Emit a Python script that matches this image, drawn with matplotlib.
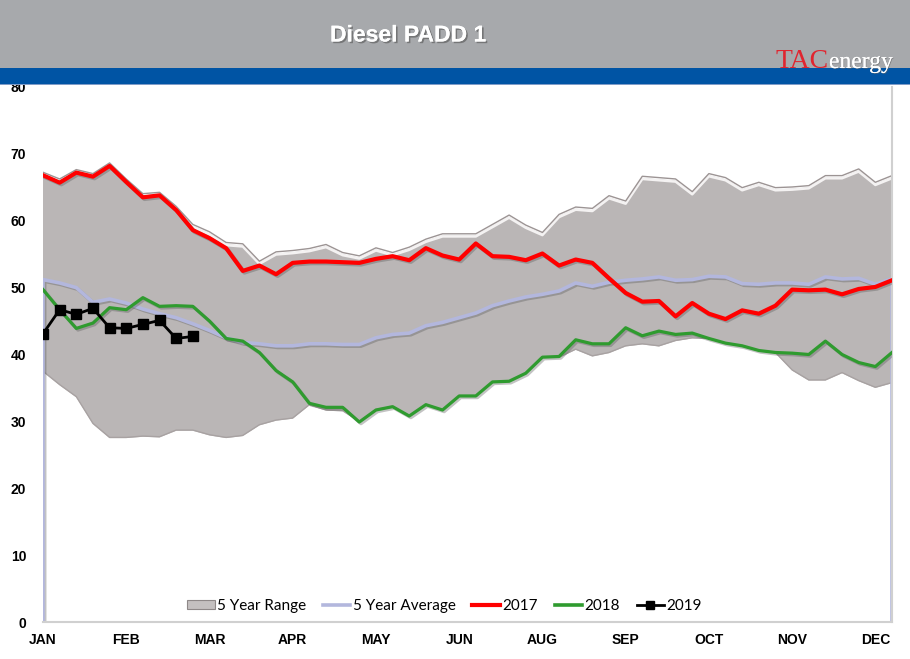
import numpy as np
import matplotlib
matplotlib.use("Agg")
import matplotlib.pyplot as plt
from matplotlib.patches import Rectangle, Patch
from matplotlib.lines import Line2D
import matplotlib.patheffects as pe

# ---------------- data ----------------
month_labels = ["JAN", "FEB", "MAR", "APR", "MAY", "JUN", "AUG", "SEP", "OCT", "NOV", "DEC"]
month_tick_weeks = [0, 5, 10, 15, 20, 25, 30, 35, 40, 45, 50]

range_top = [67.0, 66.0, 67.4, 66.8, 68.4, 66.0, 63.8, 64.0, 61.9, 59.2, 58.1, 56.5,
             56.3, 53.7, 55.1, 55.3, 55.6, 56.2, 55.0, 54.5, 55.7, 55.0, 55.8, 57.0,
             57.8, 57.8, 57.8, 59.2, 60.6, 59.1, 58.0, 60.7, 61.8, 61.6, 63.5, 62.7,
             66.4, 66.2, 66.0, 64.1, 66.8, 66.2, 64.7, 65.5, 64.7, 64.8, 65.0, 66.5,
             66.5, 67.5, 65.5, 66.5]
range_bottom = [37.4, 35.4, 33.6, 29.6, 27.5, 27.5, 27.7, 27.6, 28.6, 28.6, 27.9, 27.5,
                27.8, 29.4, 30.1, 30.4, 32.4, 31.6, 31.5, 29.9, 31.7, 32.1, 30.7, 32.4,
                31.6, 33.7, 33.7, 35.8, 35.9, 37.1, 39.5, 39.5, 40.7, 39.7, 40.2, 41.2,
                41.5, 41.2, 42.0, 42.4, 42.3, 41.6, 41.2, 40.5, 40.2, 37.6, 36.1, 36.1,
                37.2, 36.0, 35.0, 35.7]
avg_5yr = [51.2, 50.7, 50.0, 47.8, 48.3, 47.7, 46.8, 46.1, 45.5, 44.6, 43.6, 42.5,
           41.8, 41.6, 41.3, 41.3, 41.6, 41.6, 41.5, 41.5, 42.5, 43.0, 43.2, 44.3,
           44.8, 45.5, 46.2, 47.3, 48.0, 48.6, 49.0, 49.5, 50.7, 50.2, 50.8, 51.1,
           51.3, 51.6, 51.1, 51.2, 51.7, 51.6, 50.6, 50.5, 50.7, 50.7, 50.5, 51.6,
           51.3, 51.4, 50.5, 51.3]
y2017 = [66.8, 65.7, 67.2, 66.6, 68.2, 65.8, 63.5, 63.8, 61.6, 58.6, 57.4, 55.9,
         52.5, 53.3, 52.0, 53.7, 53.9, 53.9, 53.8, 53.7, 54.3, 54.7, 54.1, 55.9,
         54.8, 54.2, 56.6, 54.7, 54.6, 54.1, 55.1, 53.3, 54.2, 53.7, 51.4, 49.2,
         47.9, 48.0, 45.7, 47.7, 46.1, 45.3, 46.6, 46.1, 47.3, 49.7, 49.6, 49.7,
         49.0, 49.8, 50.1, 51.1]
y2018 = [49.7, 46.7, 43.9, 44.7, 47.0, 46.7, 48.5, 47.2, 47.3, 47.2, 45.0, 42.4,
         42.0, 40.3, 37.6, 35.9, 32.7, 32.1, 32.1, 29.9, 31.7, 32.2, 30.8, 32.5,
         31.7, 33.8, 33.8, 35.9, 36.0, 37.2, 39.6, 39.7, 42.2, 41.6, 41.6, 44.0,
         42.8, 43.5, 43.0, 43.2, 42.4, 41.7, 41.3, 40.6, 40.3, 40.2, 40.0, 42.0,
         40.0, 38.8, 38.2, 40.3]
y2019 = [43.1, 46.7, 46.0, 46.9, 44.0, 43.9, 44.5, 45.1, 42.4, 42.7]

title = "Diesel PADD 1"

# ---------------- figure ----------------
W, H = 910, 659
fig = plt.figure(figsize=(W / 100, H / 100), dpi=100)
fig.patch.set_facecolor("white")

def fx(px):
    return px / W

def fy(py):
    return 1 - py / H

# header bands
fig.patches.append(Rectangle((0, fy(68)), 1, fy(0) - fy(68), transform=fig.transFigure,
                             facecolor="#A7A9AC", edgecolor="none", zorder=0))
fig.patches.append(Rectangle((0, fy(84)), 1, fy(68) - fy(84), transform=fig.transFigure,
                             facecolor="#0054A4", edgecolor="none", zorder=0))
fig.patches.append(Rectangle((0, fy(85)), 1, fy(84) - fy(85), transform=fig.transFigure,
                             facecolor="#7F9CC8", edgecolor="none", zorder=0))

fig.text(fx(408), fy(35), "D i e s e l   P A D D   1".replace(" ", "\u200a") if False else title,
         color="white", fontsize=16.5, fontweight="bold",
         family="Liberation Sans", ha="center", va="center",
         path_effects=[pe.withSimplePatchShadow(offset=(1.2, -1.2), shadow_rgbFace="#555555", alpha=0.6), pe.Normal()])

# logo
fig.text(fx(775), fy(68), "TAC", color="#E0252F", fontsize=20, family="Liberation Serif",
         ha="left", va="baseline")
fig.text(fx(829), fy(68), "energy", color="white", fontsize=17, family="Liberation Serif",
         ha="left", va="baseline",
         path_effects=[pe.withSimplePatchShadow(offset=(0.6, -0.6), shadow_rgbFace="#666666", alpha=0.6), pe.Normal()])

# axes
ax = fig.add_axes([fx(43), fy(622), fx(892) - fx(43), fy(87) - fy(622)])
ax.set_facecolor("white")
n = len(range_top)
x = np.arange(n)
ax.set_xlim(0, n - 1)
ax.set_ylim(0, 80)

# 5 year range
ax.fill_between(x, range_bottom, range_top, facecolor="#BAB6B6", edgecolor="none", zorder=1)
ax.plot(x, np.array(range_top) + 0.25, color="#9C9494", lw=1.0, zorder=1.2)
ax.plot(x, np.array(range_top) - 0.15, color="#F4F2F2", lw=1.8, zorder=1.1)
ax.plot(x, np.array(range_bottom) + 0.1, color="#A8A2A2", lw=1.0, zorder=1.1)
ax.plot([x[-1], x[-1]], [range_bottom[-1], range_top[-1]], color="#6E6868", lw=1.2, zorder=1.2)

shadow = [pe.SimpleLineShadow(offset=(1.2, -1.2), shadow_color="#555555", alpha=0.35), pe.Normal()]

# 5 year average (drops to zero at both ends, as in the source)
avg_x = np.concatenate([[x[0]], x, [x[-1]]])
avg_y = np.concatenate([[0], avg_5yr, [0]])
ax.plot(avg_x, avg_y, color="#B3B7DD", lw=2.6, zorder=2, solid_joinstyle="round",
        path_effects=shadow)

ax.plot(x, y2017, color="#FF0000", lw=3.0, zorder=4, solid_joinstyle="round", path_effects=shadow)
ax.plot(x, y2018, color="#2F9B2F", lw=2.3, zorder=3, solid_joinstyle="round", path_effects=shadow)
x19 = np.arange(len(y2019))
ax.plot(x19, y2019, color="black", lw=2.0, marker="s", markersize=7, zorder=5)

# frame
for s in ["top", "left"]:
    ax.spines[s].set_visible(False)
for s in ["bottom", "right"]:
    ax.spines[s].set_color("#D0D0D0")
    ax.spines[s].set_linewidth(1.5)

ax.set_yticks(np.arange(0, 81, 10))
ax.set_yticklabels([str(v) for v in range(0, 81, 10)], fontsize=10, fontweight="bold",
                   family="Liberation Sans")
ax.set_xticks(month_tick_weeks)
ax.set_xticklabels(month_labels, fontsize=10, fontweight="bold",
                   family=["Liberation Sans Narrow", "Liberation Sans"])
ax.tick_params(axis="y", length=0, pad=12)
ax.tick_params(axis="x", length=0, pad=8)

handles = [
    Patch(facecolor="#C4C0C0", edgecolor="#8E8888", linewidth=0.8),
    Line2D([], [], color="#B3B7DD", lw=2.6),
    Line2D([], [], color="#FF0000", lw=3.0),
    Line2D([], [], color="#2F9B2F", lw=2.6),
    Line2D([], [], color="black", lw=2.0, marker="s", markersize=6),
]
labels = ["5 Year Range", "5 Year Average", "2017", "2018", "2019"]
leg = ax.legend(handles, labels, loc="center", bbox_to_anchor=(0.473, 0.03), ncol=5,
                frameon=False, prop={"family": "Lato", "size": 11},
                handlelength=1.8, handletextpad=0.15, columnspacing=1.1, handleheight=0.6)

fig.savefig("out.png", dpi=100)
